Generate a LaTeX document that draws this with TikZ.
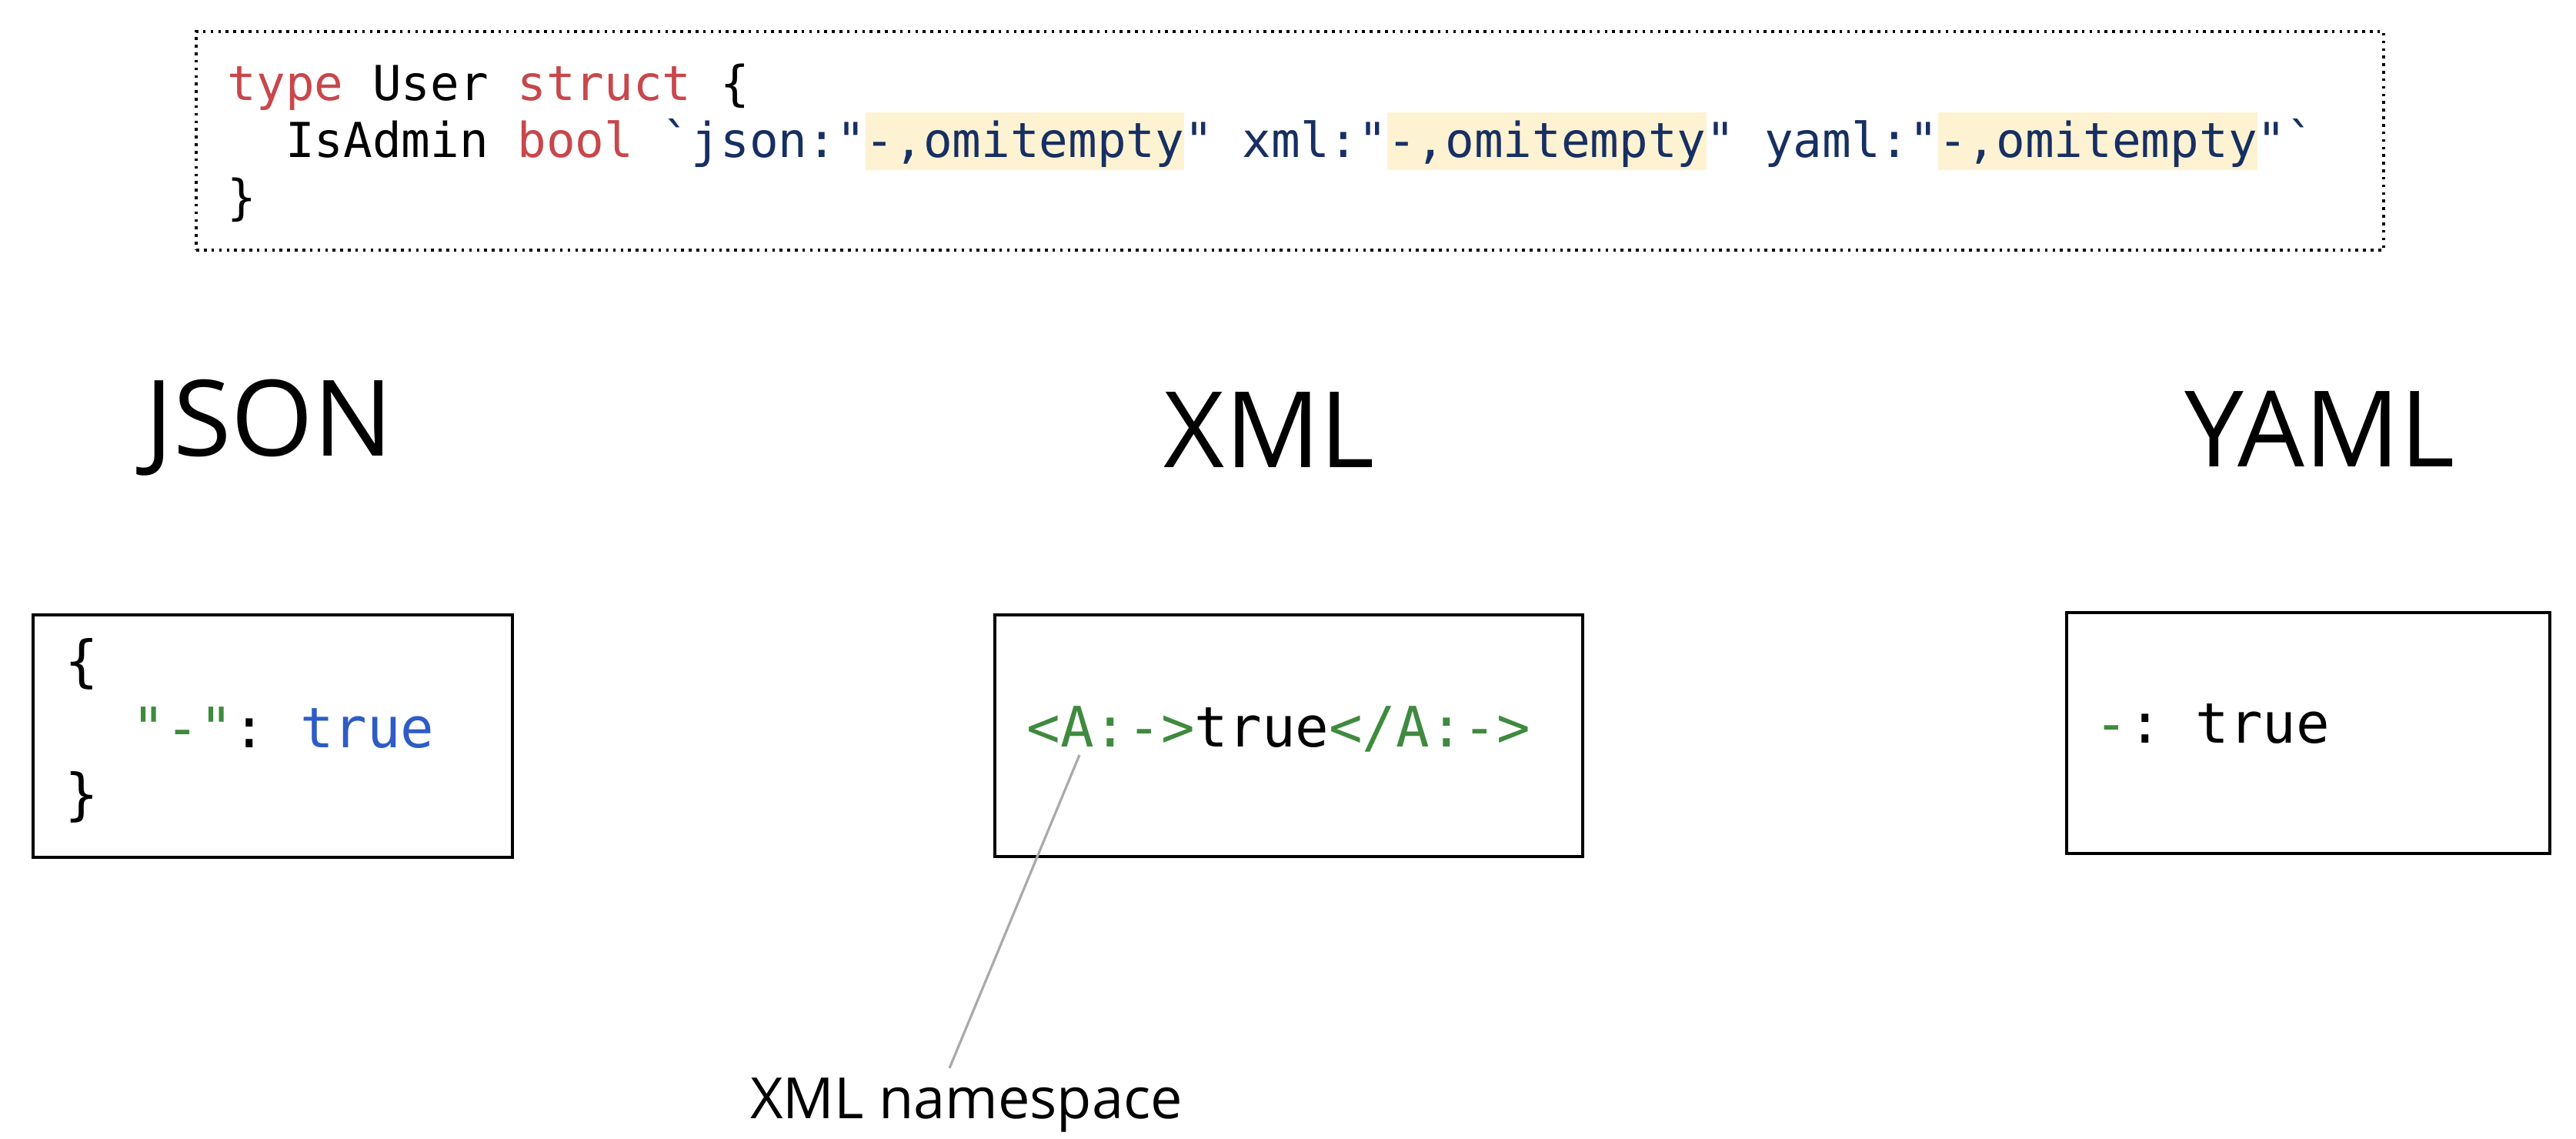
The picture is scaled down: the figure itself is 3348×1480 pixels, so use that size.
\documentclass[tikz,border=0pt]{standalone}
\usepackage{fontspec}
\setmainfont{Open Sans}
\setmonofont{DejaVu Sans Mono}
\usepackage{tikz}
\definecolor{kwred}{HTML}{C8474B}
\definecolor{tagnavy}{HTML}{172F62}
\definecolor{hlyellow}{HTML}{FDF2D2}
\definecolor{strgreen}{HTML}{3F8A3F}
\definecolor{boolblue}{HTML}{2E5CC6}
\definecolor{leadgray}{HTML}{A9A9A9}
\newcommand\hlbox[1]{{\setlength\fboxsep{0pt}\colorbox{hlyellow}{\rule[-0.16cm]{0pt}{0.75cm}#1}}}
\tikzset{
	outbox/.style={draw=black, line width=1pt, inner sep=0pt},
	dotbox/.style={draw=black, line width=1.1pt, dash pattern=on 1pt off 1.8pt, inner sep=0pt},
	title/.style={font=\fontsize{39}{46}\selectfont, anchor=base, inner sep=0pt},
	topcode/.style={font=\ttfamily\fontsize{17.8}{21}\selectfont, anchor=base west, inner sep=0pt},
	fmtcode/.style={font=\ttfamily\fontsize{20.6}{25}\selectfont, anchor=base west, inner sep=0pt},
	leader/.style={draw=leadgray, line width=0.9pt},
	note/.style={font=\fontsize{21}{25}\selectfont, anchor=base, inner sep=0pt}
}
\begin{document}
\begin{tikzpicture}[x=0.01cm, y=-0.01cm]
			%%%%% START %%%%%
			\useasboundingbox[fill=white] (0, 0) rectangle (3348, 1480);
			
			% struct tags
			\node[dotbox, minimum width=28.41cm, minimum height=2.84cm] (tagbox) at (1676.5, 183) {};
			\node[topcode] (code1) at (295, 131) {\textcolor{kwred}{type} User \textcolor{kwred}{struct} \{};
			\node[topcode] (code2) at (295, 205) {\hphantom{xx}IsAdmin \textcolor{kwred}{bool} \textcolor{tagnavy}{`json:"\hlbox{-,omitempty}" xml:"\hlbox{-,omitempty}" yaml:"\hlbox{-,omitempty}"`}};
			\node[topcode] (code3) at (295, 279) {\}};
			
			% titles
			\node[title] (jsontitle) at (350, 593) {JSON};
			\node[title] (xmltitle) at (1650, 608) {XML};
			\node[title] (yamltitle) at (3015, 607) {YAML};
			
			% outputs
			\node[outbox, minimum width=6.23cm, minimum height=3.15cm] (jsonbox) at (354.5, 956.5) {};
			\node[outbox, minimum width=7.64cm, minimum height=3.14cm] (xmlbox) at (1675, 956) {};
			\node[outbox, minimum width=6.28cm, minimum height=3.13cm] (yamlbox) at (3000, 952.5) {};
			
			\node[fmtcode] (json1) at (84, 885) {\{};
			\node[fmtcode] (json2) at (84, 972) {\hphantom{xx}\textcolor{strgreen}{"-"}: \textcolor{boolblue}{true}};
			\node[fmtcode] (json3) at (84, 1058) {\}};
			
			\node[fmtcode] (xml1) at (1334, 971) {\textcolor{strgreen}{<A:->}true\textcolor{strgreen}{</A:->}};
			
			\node[fmtcode] (yaml1) at (2722, 966) {\textcolor{strgreen}{-}: true};
			
			% namespace note
			\node[note] (nslabel) at (1256, 1453) {XML namespace};
			\coordinate (nsA) at (1403, 981);
			\coordinate (nsend) at (1234, 1388);
			\draw[leader] (nsA) -- (nsend);
			%%%%% END %%%%%
\end{tikzpicture}
\end{document}
